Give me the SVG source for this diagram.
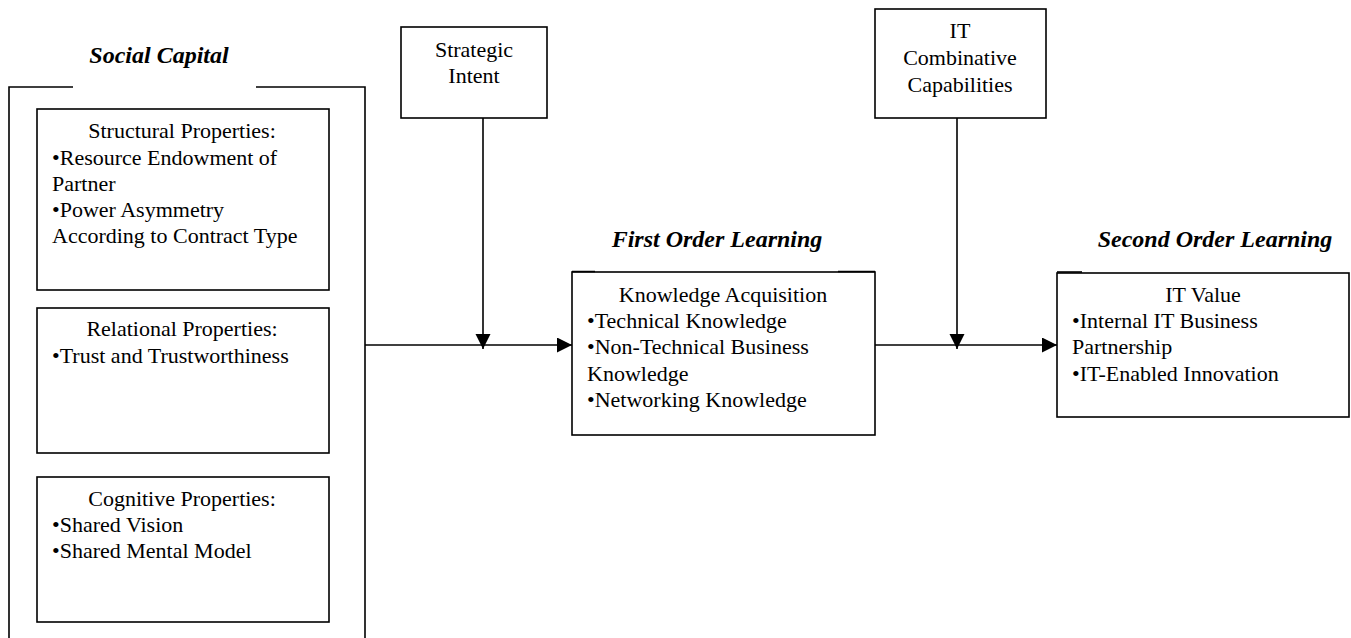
<svg xmlns="http://www.w3.org/2000/svg" width="1351" height="638" viewBox="0 0 1351 638">
<style>
.box{fill:none;stroke:#000;stroke-width:1.6}
.ln{fill:none;stroke:#000;stroke-width:1.6}
.t{font-family:"Liberation Serif","Times New Roman",serif;font-size:22px;fill:#000}
.c{text-anchor:middle}
.h{font-family:"Liberation Serif","Times New Roman",serif;font-size:24px;font-weight:bold;font-style:italic;fill:#000;text-anchor:middle}
</style>
<defs>
<marker id="ah" markerUnits="userSpaceOnUse" markerWidth="16" markerHeight="16" viewBox="0 0 16 16" refX="15" refY="7.5" orient="auto">
<path d="M0,0 L15,7.5 L0,15 Z" fill="#000"/>
</marker>
</defs>
<rect width="1351" height="638" fill="#fff"/>

<g id="social-capital">
<text class="h" x="159" y="63">Social Capital</text>
<path class="ln" d="M73,87 H9 V640 M256,87 H365 V640"/>
</g>

<g id="structural">
<rect class="box" x="37" y="109" width="292" height="181"/>
<text class="t c" x="182" y="138">Structural Properties:</text>
<text class="t" x="52" y="165">•Resource Endowment of</text>
<text class="t" x="52" y="191">Partner</text>
<text class="t" x="52" y="217">•Power Asymmetry</text>
<text class="t" x="52" y="243">According to Contract Type</text>
</g>

<g id="relational">
<rect class="box" x="37" y="308" width="292" height="145"/>
<text class="t c" x="182" y="336">Relational Properties:</text>
<text class="t" x="52" y="363">•Trust and Trustworthiness</text>
</g>

<g id="cognitive">
<rect class="box" x="37" y="477" width="292" height="145"/>
<text class="t c" x="182" y="506">Cognitive Properties:</text>
<text class="t" x="52" y="532">•Shared Vision</text>
<text class="t" x="52" y="558">•Shared Mental Model</text>
</g>

<g id="strategic-intent">
<rect class="box" x="401" y="27" width="146" height="91"/>
<text class="t c" x="474" y="57">Strategic</text>
<text class="t c" x="474" y="83">Intent</text>
</g>

<g id="it-combinative">
<rect class="box" x="875" y="9" width="171" height="109"/>
<text class="t c" x="960" y="38">IT</text>
<text class="t c" x="960" y="65">Combinative</text>
<text class="t c" x="960" y="92">Capabilities</text>
</g>

<g id="first-order">
<text class="h" x="717" y="247">First Order Learning</text>
<path class="ln" d="M572,271.5 H595 M838,271.5 H875" stroke-width="2.2"/>
<rect class="box" x="572" y="272" width="303" height="163"/>
<text class="t c" x="723" y="302">Knowledge Acquisition</text>
<text class="t" x="587" y="328">•Technical Knowledge</text>
<text class="t" x="587" y="354">•Non-Technical Business</text>
<text class="t" x="587" y="381">Knowledge</text>
<text class="t" x="587" y="407">•Networking Knowledge</text>
</g>

<g id="second-order">
<text class="h" x="1215" y="247">Second Order Learning</text>
<path class="ln" d="M1057,272 H1082" stroke-width="2.2"/>
<rect class="box" x="1057" y="273" width="292" height="144"/>
<text class="t c" x="1203" y="302">IT Value</text>
<text class="t" x="1072" y="328">•Internal IT Business</text>
<text class="t" x="1072" y="354">Partnership</text>
<text class="t" x="1072" y="381">•IT-Enabled Innovation</text>
</g>

<g id="connectors">
<path class="ln" d="M365,345 H572" marker-end="url(#ah)"/>
<path class="ln" d="M483,118 V349" marker-end="url(#ah)"/>
<path class="ln" d="M875,345 H1057" marker-end="url(#ah)"/>
<path class="ln" d="M957,118 V349" marker-end="url(#ah)"/>
</g>
</svg>
